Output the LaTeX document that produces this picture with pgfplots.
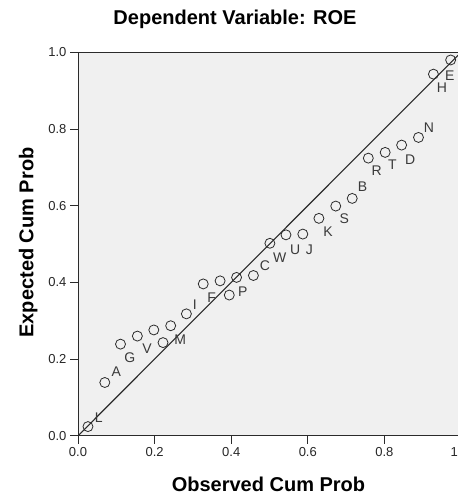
\documentclass[border=0pt]{standalone}
\usepackage{fontspec}
\setmainfont{Liberation Sans}
\usepackage{pgfplots}
\pgfplotsset{compat=1.18}
\definecolor{bggray}{HTML}{F0F0F0}
\definecolor{axgray}{HTML}{2B2B2B}
\definecolor{labgray}{HTML}{3A3A3A}
\begin{document}
\begin{tikzpicture}
\begin{axis}[name=ax, scale only axis, width=383pt, height=383.5pt,
  xmin=0, xmax=1, ymin=0, ymax=1,
  axis background/.style={fill=bggray},
  axis line style={draw=axgray, line width=0.9pt},
  xtick={0,0.2,0.4,0.6,0.8,1}, ytick={0,0.2,0.4,0.6,0.8,1},
  xticklabels={0.0,0.2,0.4,0.6,0.8,\hspace*{-2.5pt}1\phantom{.0}},
  yticklabels={0.0,0.2,0.4,0.6,0.8,1.0},
  tick align=outside, major tick length=8pt,
  xtick pos=bottom, ytick pos=left,
  tick style={draw=axgray, line width=0.9pt},
  ticklabel style={font=\fontsize{13}{15}\selectfont, text=black!85},
  clip=false]
\addplot[axgray, line width=1.1pt] coordinates {(0,0) (1,1)};
\addplot[only marks, mark=o, mark size=5pt, mark options={draw=axgray, line width=0.8pt}] table {
x y
0.026 0.024
0.070 0.139
0.111 0.239
0.155 0.260
0.198 0.276
0.222 0.243
0.242 0.287
0.283 0.318
0.327 0.396
0.371 0.404
0.395 0.367
0.414 0.413
0.458 0.418
0.501 0.502
0.543 0.524
0.587 0.526
0.629 0.567
0.673 0.599
0.716 0.619
0.758 0.724
0.802 0.739
0.845 0.758
0.889 0.778
0.928 0.943
0.973 0.980
};
\addplot[draw=none, mark=none, nodes near coords, point meta=explicit symbolic,
  nodes near coords style={anchor=center, inner sep=0pt, font=\fontsize{14}{16}\selectfont, text=labgray}] table[meta=lab] {
x y lab
0.054 0.046 L
0.100 0.167 A
0.135 0.205 G
0.180 0.226 V
0.267 0.250 M
0.305 0.341 I
0.349 0.361 F
0.430 0.376 P
0.488 0.443 C
0.527 0.465 W
0.567 0.486 U
0.604 0.486 J
0.653 0.532 K
0.695 0.567 S
0.743 0.650 B
0.780 0.691 R
0.821 0.706 T
0.867 0.721 D
0.916 0.804 N
0.950 0.907 H
0.971 0.940 E
};
\end{axis}
\node[anchor=base, font=\fontsize{20}{24}\selectfont\bfseries] at ([shift={(157pt,411.5pt)}]ax.south west) {Dependent Variable: ROE};
\node[anchor=base, font=\fontsize{20}{24}\selectfont\bfseries] at ([shift={(190.5pt,-55.9pt)}]ax.south west) {Observed Cum Prob};
\node[anchor=base, rotate=90, font=\fontsize{20}{24}\selectfont\bfseries] at ([shift={(-44.7pt,193.3pt)}]ax.south west) {Expected Cum Prob};
\pgfresetboundingbox
\path ([shift={(-78pt,-61.2pt)}]ax.south west) rectangle ([shift={(379pt,435.8pt)}]ax.south west);
\end{tikzpicture}
\end{document}
